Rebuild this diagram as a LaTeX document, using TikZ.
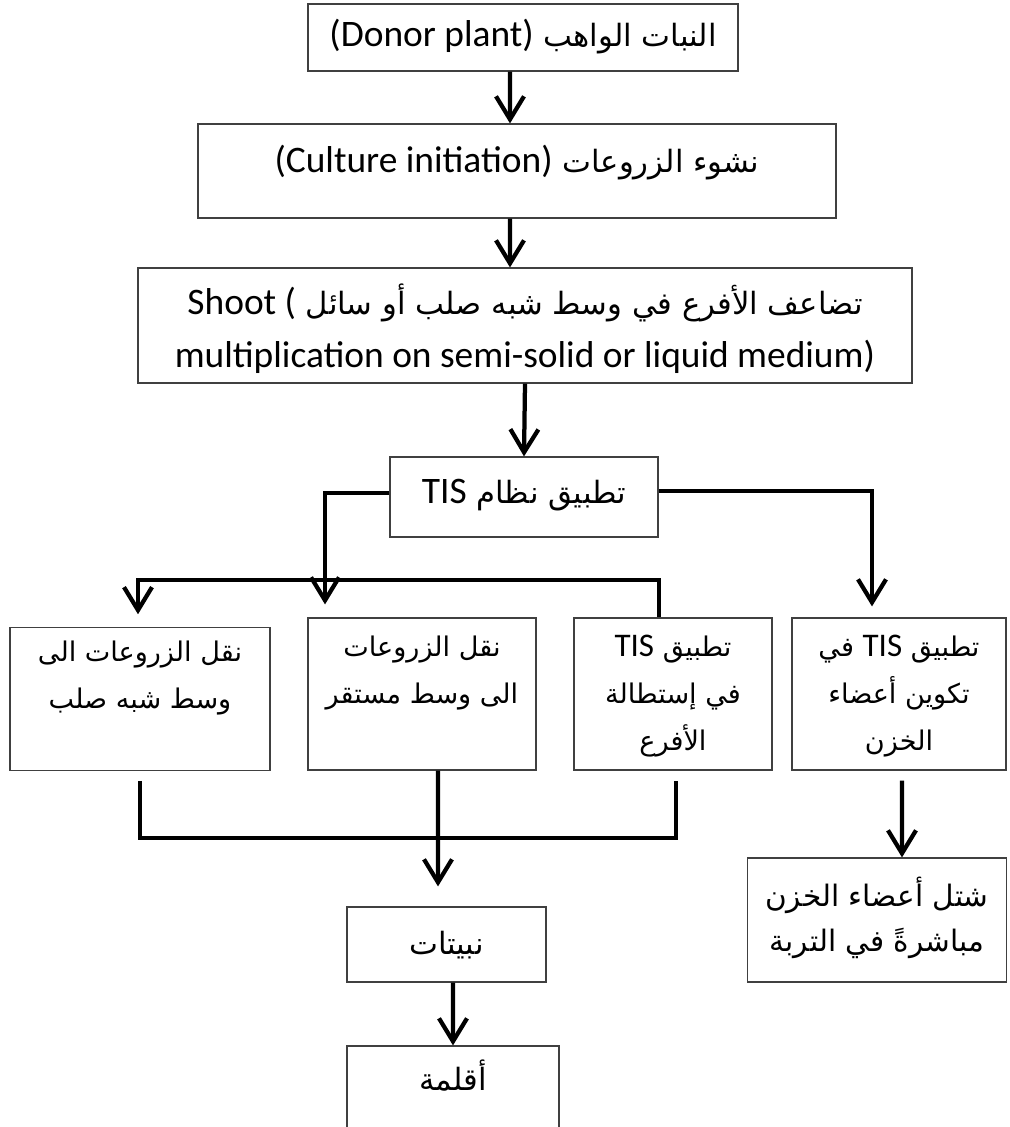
\documentclass[tikz,border=0pt]{standalone}
\usepackage{fontspec}
\setmainfont{Carlito}
\newfontfamily\arabicfont[Script=Arabic,Scale=0.82]{DejaVu Sans}
\newfontfamily\latinfont{Carlito}
\usetikzlibrary{arrows.meta}
\TeXXeTstate=1
\newcommand{\artext}[1]{{\arabicfont\strut\beginR #1\endR}}
\newcommand{\lat}[1]{\beginL{\latinfont #1}\endL}
\begin{document}
\begin{tikzpicture}[x=0.02cm, y=-0.02cm,
	box/.style={draw=black!75, line width=0.7pt, align=center, inner sep=0pt, font=\fontsize{21.3}{27}\selectfont},
	rowbox/.style={box, minimum height=3.04cm, font=\fontsize{18.8}{27}\selectfont},
	link/.style={line width=0.085cm},
	arr/.style={link, -{Straight Barb[length=0.46cm, width=0.56cm]}}]
	\useasboundingbox (0,0) rectangle (1009,1127);
	\clip (0,0) rectangle (1009,1127);
	\node[box, minimum width=8.6cm, minimum height=1.34cm] (donor) at (523,37.5) {\artext{النبات الواهب \lat{(Donor plant)}}};
	\node[box, minimum width=12.76cm, text height=0.96cm, text depth=0.92cm] (culture) at (517,171) {\artext{نشوء الزروعات \lat{(Culture initiation)}}};
	\node[box, minimum width=15.48cm, minimum height=2.3cm, font=\fontsize{21.3}{30}\selectfont] (shoot) at (525,325.5) {\artext{تضاعف الأفرع في وسط شبه صلب أو سائل \lat{Shoot (}}\\ multiplication on semi-solid or liquid medium)};
	\node[box, minimum width=5.36cm, text height=0.92cm, text depth=0.68cm] (tis) at (524,497) {\artext{تطبيق نظام \lat{TIS}}};
	\node[rowbox, minimum width=5.2cm, minimum height=2.84cm] (semisolid) at (140,699) {\artext{نقل الزروعات الى}\\ \artext{وسط شبه صلب}\\ \strut};
	\node[rowbox, minimum width=4.56cm] (stable) at (422,694) {\artext{نقل الزروعات}\\ \artext{الى وسط مستقر}\\ \strut};
	\node[rowbox, minimum width=3.96cm] (elong) at (673,694) {\artext{تطبيق \lat{TIS}}\\ \artext{في إستطالة}\\ \artext{الأفرع}};
	\node[rowbox, minimum width=4.28cm] (storage) at (899,694) {\artext{تطبيق \lat{TIS} في}\\ \artext{تكوين أعضاء}\\ \artext{الخزن}};
	\node[box, minimum width=3.98cm, minimum height=1.5cm] (plantlets) at (446.5,944.5) {\artext{نبيتات}};
	\node[box, minimum width=4.24cm, text height=0.88cm, text depth=0.9cm] (acclim) at (453,1090.5) {\artext{أقلمة}};
	\node[box, minimum width=5.18cm, minimum height=2.48cm, font=\fontsize{20.5}{25.6}\selectfont] (transplant) at (877,920) {\artext{شتل أعضاء الخزن}\\ \artext{مباشرةً في التربة}};
	\coordinate (barL) at (138,580);
	\coordinate (barR) at (659,580);
	\coordinate (join) at (438,838);
	\draw[arr] ([xshift=-0.26cm]donor.south) -- ([xshift=-0.14cm]culture.north);
	\draw[arr] ([xshift=-0.14cm]culture.south) -- ([xshift=-0.3cm]shoot.north);
	\draw[arr] (shoot.south) -- (tis.north);
	\draw[arr, shorten >=0.26cm] ([yshift=0.08cm]tis.west) -| ([xshift=-1.94cm]stable.north);
	\draw[arr, shorten >=0.22cm] ([yshift=0.12cm]tis.east) -| ([xshift=-0.54cm]storage.north);
	\draw[arr, {Straight Barb[length=0.46cm, width=0.56cm]}-, shorten <=0.26cm] (barL |- semisolid.north) -- (barL) -- (barR) -- (barR |- elong.north);
	\draw[link, shorten <=0.2cm, shorten >=0.2cm] (semisolid.south) |- (join) -| ([xshift=0.06cm]elong.south);
	\draw[arr, shorten >=0.4cm] ([xshift=0.32cm]stable.south) -- ([xshift=-0.17cm]plantlets.north);
	\draw[arr, shorten <=0.2cm] ([xshift=0.06cm]storage.south) -- ([xshift=0.5cm]transplant.north);
	\draw[arr] ([xshift=0.13cm]plantlets.south) -- (acclim.north);
\end{tikzpicture}
\end{document}
